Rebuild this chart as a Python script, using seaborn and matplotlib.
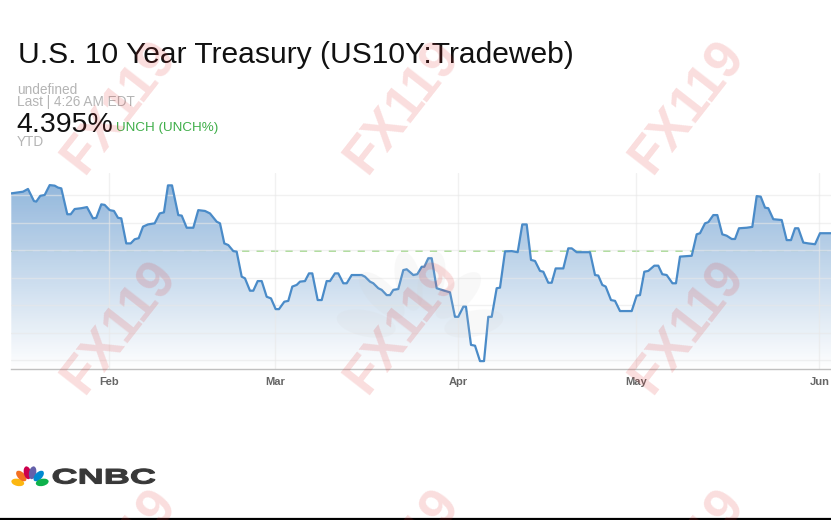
import numpy as np
import pandas as pd
import matplotlib
matplotlib.use("Agg")
import matplotlib.pyplot as plt
import matplotlib.dates as mdates
from matplotlib.colors import LinearSegmentedColormap
from matplotlib.patches import Ellipse, PathPatch
from matplotlib.textpath import TextPath
from matplotlib.font_manager import FontProperties
from matplotlib.transforms import Affine2D
from matplotlib.lines import Line2D
import seaborn as sns

# ---------------- data ----------------
day_of_year_2025 = [14.44,16.42,17.26,18.27,18.66,19.34,20.08,20.93,21.77,22.33,
    22.89,23.90,24.48,25.15,26.27,27.23,28.25,28.80,29.65,30.22,
    31.07,31.79,32.47,33.03,33.87,34.62,35.29,35.97,36.70,37.54,
    38.67,39.52,40.24,40.92,41.60,42.66,43.24,44.08,45.20,46.04,
    47.17,48.02,49.15,49.71,50.44,51.11,51.96,52.53,53.38,53.93,
    54.78,55.34,56.08,56.76,57.60,58.33,59.12,59.68,60.58,61.25,
    61.93,62.67,63.23,64.07,64.75,65.31,66.22,66.90,67.74,68.30,
    69.14,69.70,70.55,71.12,71.97,73.66,74.21,75.06,75.62,76.46,
    77.04,77.88,78.44,79.00,79.84,80.69,81.26,82.38,83.05,83.80,
    84.24,84.91,85.49,86.33,87.18,88.29,88.58,89.42,89.98,90.83,
    91.28,92.13,92.81,93.65,94.33,95.05,95.63,96.47,97.03,97.88,
    99.01,100.02,100.80,101.54,102.27,102.95,103.79,104.35,105.19,105.77,
    106.44,107.73,108.57,109.15,109.99,112.24,113.09,113.64,114.32,114.89,
    115.79,116.47,117.31,119.29,120.13,120.69,121.42,122.09,123.11,123.78,
    124.46,125.20,126.18,126.77,127.45,129.43,130.27,130.83,131.68,132.23,
    133.08,133.76,134.60,135.34,136.19,136.75,137.42,138.72,139.67,140.41,
    141.09,141.82,142.37,143.22,144.64,145.48,146.21,146.89,147.44,148.29,
    149.13,150.27,151.11,152.97]

yield_pct = [4.606,4.612,4.622,4.578,4.576,4.597,4.600,4.636,4.634,4.627,
    4.624,4.530,4.530,4.549,4.552,4.556,4.515,4.517,4.566,4.564,
    4.545,4.542,4.517,4.515,4.424,4.424,4.439,4.443,4.485,4.493,
    4.497,4.533,4.537,4.635,4.635,4.527,4.525,4.481,4.481,4.545,
    4.542,4.533,4.503,4.497,4.424,4.418,4.396,4.394,4.303,4.297,
    4.252,4.252,4.287,4.287,4.230,4.224,4.185,4.185,4.212,4.215,
    4.267,4.273,4.285,4.287,4.315,4.315,4.218,4.218,4.287,4.287,
    4.315,4.315,4.279,4.279,4.309,4.309,4.303,4.285,4.279,4.261,
    4.255,4.236,4.236,4.255,4.258,4.327,4.330,4.309,4.312,4.339,
    4.339,4.370,4.370,4.261,4.255,4.248,4.246,4.157,4.157,4.194,
    4.194,4.055,4.052,3.996,3.996,4.157,4.157,4.261,4.263,4.395,
    4.396,4.392,4.493,4.493,4.364,4.360,4.324,4.321,4.281,4.281,
    4.333,4.333,4.406,4.406,4.392,4.392,4.309,4.307,4.273,4.267,
    4.218,4.215,4.178,4.178,4.234,4.236,4.321,4.324,4.343,4.343,
    4.312,4.309,4.279,4.279,4.376,4.379,4.457,4.461,4.497,4.501,
    4.527,4.527,4.457,4.452,4.440,4.440,4.479,4.481,4.484,4.596,
    4.594,4.554,4.552,4.512,4.509,4.436,4.436,4.479,4.479,4.427,
    4.424,4.421,4.461,4.461]

month_ticks = ["2025-02-01", "2025-03-01", "2025-04-01", "2025-05-01", "2025-06-01"]
month_labels = ["Feb", "Mar", "Apr", "May", "Jun"]
grid_levels = [4.0, 4.1, 4.2, 4.3, 4.4, 4.5, 4.6]
last_value = 4.395

title_text = "U.S. 10 Year Treasury (US10Y:Tradeweb)"
source_text = "undefined"
time_text = "Last | 4:26 AM EDT"
price_text = "4.395%"
change_text = "UNCH (UNCH%)"
range_text = "YTD"
watermark_text = "FX119"

# ---------------- styling ----------------
sns.set_style("white")
plt.rcParams["font.family"] = ["Liberation Sans", "DejaVu Sans"]

W, H = 831, 520
fig = plt.figure(figsize=(W / 100, H / 100), dpi=100)
fig.patch.set_facecolor("white")

def fx(px):
    return px / W

def fy(py):
    return 1 - py / H

ax_top, ax_bot, ax_left = 173, 369, 11
ax = fig.add_axes([fx(ax_left), fy(ax_bot), 1 - fx(ax_left), (ax_bot - ax_top) / H])
ax.set_facecolor("none")

base = pd.Timestamp("2025-01-01")
df = pd.DataFrame({
    "date": base + pd.to_timedelta(day_of_year_2025, unit="D"),
    "yield": yield_pct,
})

x0 = base + pd.Timedelta(days=14.39)
x1 = base + pd.Timedelta(days=152.97)
y_lo, y_hi = 3.9673, 4.68

# gridlines (drawn above the fill, faint)
for lv in grid_levels:
    ax.axhline(lv, color="#e8e8e8", lw=1.0, zorder=3, alpha=0.6)
tick_dates = pd.to_datetime(month_ticks)
for td in tick_dates:
    ax.axvline(td, color="#e8e8e8", lw=1.0, zorder=3, alpha=0.6)

# previous close dashed line (under the fill)
ax.axhline(last_value, color="#a3d98c", lw=1.3, ls=(0, (4, 4)), zorder=1)

# line via seaborn
sns.lineplot(data=df, x="date", y="yield", ax=ax, color="#4a8bc8", linewidth=1.6,
             zorder=5, estimator=None, sort=False)

# gradient fill under the line
poly = ax.fill_between(df["date"], df["yield"], y_lo, facecolor="none", edgecolor="none")
path = poly.get_paths()[0]
cmap = LinearSegmentedColormap.from_list("fill", ["#ffffff", "#8cb3da"])
grad = np.linspace(1, 0, 256).reshape(-1, 1)
xn0, xn1 = mdates.date2num(x0), mdates.date2num(x1)
im = ax.imshow(grad, extent=[xn0, xn1, y_lo, max(yield_pct)], origin="upper",
               aspect="auto", cmap=cmap, zorder=2, alpha=0.93, interpolation="bilinear")
im.set_clip_path(path, transform=ax.transData)

ax.set_xlim(x0, x1)
ax.set_ylim(y_lo, y_hi)
ax.set_xlabel("")
ax.set_ylabel("")
ax.set_xticks(tick_dates)
ax.set_xticklabels(month_labels)
ax.set_yticks([])
for s in ["top", "right", "left"]:
    ax.spines[s].set_visible(False)
ax.spines["bottom"].set_color("#c0c0c0")
ax.spines["bottom"].set_linewidth(1.0)
ax.spines["bottom"].set_zorder(6)
ax.tick_params(axis="x", length=4, width=1, color="#c0c0c0", labelsize=8,
               labelcolor="#666666", pad=2)
for lab in ax.get_xticklabels():
    lab.set_fontweight("bold")

# ---------------- header texts ----------------
fig.text(fx(18), fy(63.3), title_text, fontsize=21.6, color="#111111", va="baseline", ha="left")
fig.text(fx(17), fy(94), source_text, fontsize=9.8, color="#b4b4b4", va="baseline", ha="left")
fig.text(fx(17), fy(106.5), time_text, fontsize=9.8, color="#b4b4b4", va="baseline", ha="left")
fig.text(fx(16.5), fy(131.7), price_text, fontsize=20.5, color="#111111", va="baseline", ha="left")
fig.text(fx(116), fy(131.5), change_text, fontsize=9.6, color="#3fae49", va="baseline", ha="left")
fig.text(fx(17), fy(146), range_text, fontsize=9.8, color="#b4b4b4", va="baseline", ha="left")

# ---------------- overlay: logos & watermarks ----------------
ov = fig.add_axes([0, 0, 1, 1], zorder=10)
ov.set_xlim(0, W)
ov.set_ylim(H, 0)
ov.set_axis_off()

peacock_colors = ["#fcb711", "#f37021", "#cc004c", "#6460aa", "#0089d0", "#0db14b"]
feather_angles = [168, 134, 102, 78, 46, 12]

def peacock(bx, by, r, length, width, colors, alpha=1.0, z=11):
    for ang, c in zip(feather_angles, colors):
        t = np.deg2rad(ang)
        cx, cy = bx + r * np.cos(t), by - r * np.sin(t)
        ov.add_patch(Ellipse((cx, cy), length, width, angle=-ang, facecolor=c,
                             edgecolor="none", alpha=alpha, zorder=z))

# faint centre peacock watermark
peacock(420, 335, 55, 60, 26, ["#d0d0d0"] * 6, alpha=0.13, z=9)

# bottom-left CNBC logo
peacock(30, 485, 12.5, 13, 7.2, peacock_colors)
fp = FontProperties(family="Liberation Sans", weight="bold")
tp = TextPath((0, 0), "CNBC", size=21, prop=fp)
bb = tp.get_extents()
sx = 102 / bb.width
tr = Affine2D().translate(-bb.x0, 0).scale(sx, -1.0).translate(53, 483.5)
ov.add_patch(PathPatch(tr.transform_path(tp), facecolor="#383838", edgecolor="#383838",
                       lw=0.8, zorder=11))

# FX119 watermarks
for cy in [107, 327, 555]:
    for cx in [120, 403, 688]:
        ov.text(cx, cy, watermark_text, rotation=52, fontsize=38, fontweight="bold",
                color="#e03030", alpha=0.16, ha="center", va="center",
                rotation_mode="anchor", zorder=12)

# bottom border line
fig.add_artist(Line2D([0, 1], [fy(518.5), fy(518.5)], transform=fig.transFigure,
                      color="black", lw=1.6))

fig.savefig("out.png", dpi=100)
